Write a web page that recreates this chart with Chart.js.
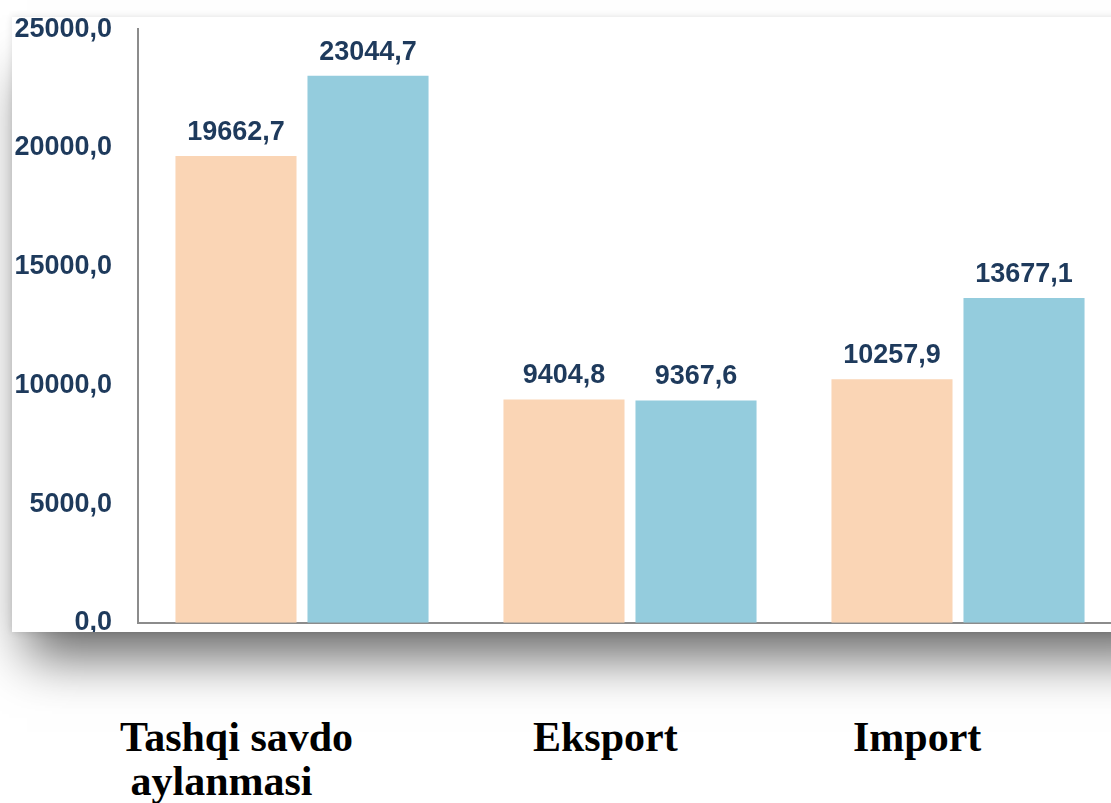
<!DOCTYPE html>
<html>
<head>
<meta charset="utf-8">
<script src="https://cdn.jsdelivr.net/npm/chart.js@4/dist/chart.umd.min.js"></script>
<style>
  html, body { margin: 0; padding: 0; background: #fff; overflow: hidden; width: 1111px; height: 803px; }
  #panel {
    position: absolute; left: 12px; top: 17px; width: 1170px; height: 615px;
    background: #fff; overflow: hidden;
    box-shadow: 0 0 7px rgba(0,0,0,0.12), 0 40px 50px -15px rgba(0,0,0,0.6);
  }
  #panel canvas { position: absolute; left: 0; top: -30px; }
  .cat {
    position: absolute; top: 715px;
    font-family: "Liberation Serif", "Times New Roman", serif;
    font-weight: bold; font-size: 42px; line-height: 44px;
    color: #000; white-space: pre;
  }
</style>
</head>
<body>
<div id="panel"><canvas id="chart" width="1115" height="678"></canvas></div>
<div id="cats"></div>
<script>
const categories = [["Tashqi savdo", " aylanmasi"], "Eksport", "Import"];
const series2022 = [19662.7, 9404.8, 10257.9];
const series2023 = [23044.7, 9367.6, 13677.1];
const yTicks = [0, 5000, 10000, 15000, 20000, 25000];

const navy = "#1e3a5c";
const fmt = (v) => Number(v).toFixed(1).replace(".", ",");

const catLeft = [120, 533, 853];
const catBox = document.getElementById("cats");
categories.forEach((c, i) => {
  const d = document.createElement("div");
  d.className = "cat";
  d.style.left = catLeft[i] + "px";
  d.textContent = Array.isArray(c) ? c.join("\n") : c;
  catBox.appendChild(d);
});

const valueLabels = {
  id: "valueLabels",
  afterDatasetsDraw(chart) {
    const ctx = chart.ctx;
    ctx.save();
    ctx.font = "bold 27px 'Liberation Sans', Arial, sans-serif";
    ctx.fillStyle = navy;
    ctx.textAlign = "center";
    ctx.textBaseline = "alphabetic";
    chart.data.datasets.forEach((ds, di) => {
      chart.getDatasetMeta(di).data.forEach((bar, i) => {
        ctx.fillText(fmt(ds.data[i]), bar.x, bar.y - 16);
      });
    });
    ctx.restore();
  }
};

new Chart(document.getElementById("chart"), {
  type: "bar",
  data: {
    labels: categories.map((c) => (Array.isArray(c) ? c.join(" ") : c)),
    datasets: [
      {
        label: "2022",
        data: series2022,
        backgroundColor: "#fad5b5",
        borderWidth: 0,
        categoryPercentage: 0.805,
        barPercentage: 0.917
      },
      {
        label: "2023",
        data: series2023,
        backgroundColor: "#94ccdd",
        borderWidth: 0,
        categoryPercentage: 0.805,
        barPercentage: 0.917
      }
    ]
  },
  options: {
    responsive: false,
    animation: false,
    layout: { padding: { top: 0, right: 5, left: 0, bottom: 0 } },
    plugins: {
      legend: { display: false },
      tooltip: { enabled: false }
    },
    scales: {
      x: {
        grid: { display: false, drawTicks: false },
        border: { display: true, color: "#8c8c8c", width: 2 },
        ticks: { display: false },
        afterFit: (s) => { s.height = 9; }
      },
      y: {
        min: 0,
        max: 25000,
        afterBuildTicks: (s) => { s.ticks = yTicks.map((v) => ({ value: v })); },
        grid: { display: false, drawTicks: false },
        border: { display: true, color: "#8c8c8c", width: 2 },
        ticks: {
          padding: 26,
          color: navy,
          font: { family: "'Liberation Sans', Arial, sans-serif", size: 27, weight: "bold" },
          callback: (v) => fmt(v)
        },
        afterFit: (s) => { s.width = 126; }
      }
    }
  },
  plugins: [valueLabels]
});
</script>
</body>
</html>
